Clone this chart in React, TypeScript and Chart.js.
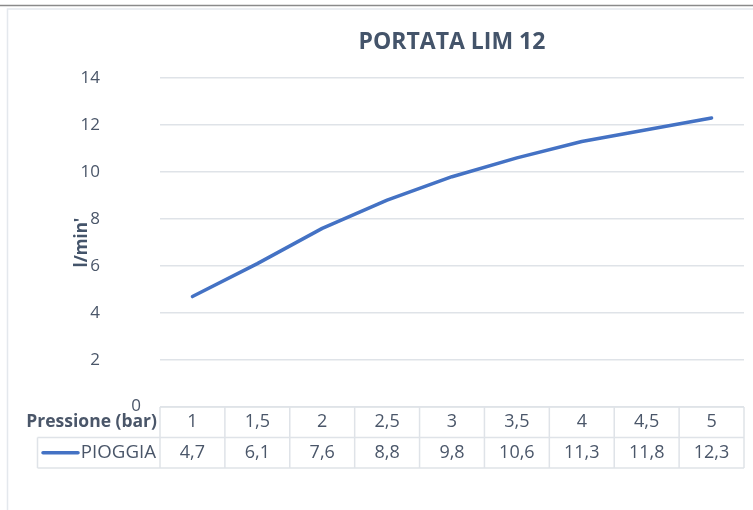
import React, { useEffect, useRef } from 'react';
import { Chart, registerables } from 'chart.js';

Chart.register(...registerables);

const chartTitle = 'PORTATA LIM 12';
const yAxisTitle = "l/min'";
const headerName = 'Pressione (bar)';
const seriesName = 'PIOGGIA';
const pressures = ['1', '1,5', '2', '2,5', '3', '3,5', '4', '4,5', '5'];
const pioggia = [4.7, 6.1, 7.6, 8.8, 9.8, 10.6, 11.3, 11.8, 12.3];
const yMin = 0;
const yMax = 14;
const yStep = 2;

const TEXT = '#4A5669';
const TITLE = '#44546A';
const LINE = '#4472C4';
const GRID = '#DFE3E8';
const FONT = "'Open Sans', sans-serif";

const fmt = (v: number) => v.toFixed(1).replace('.', ',');

const framePlugin = {
  id: 'frame',
  beforeDraw(chart: any) {
    const { ctx, width, height } = chart;
    ctx.save();
    ctx.fillStyle = '#FFFFFF';
    ctx.fillRect(0, 0, width, height);
    ctx.strokeStyle = '#8A8A8A';
    ctx.lineWidth = 1.5;
    ctx.beginPath();
    ctx.moveTo(0, 5.5);
    ctx.lineTo(width, 5.5);
    ctx.stroke();
    ctx.strokeStyle = '#E4E8ED';
    ctx.lineWidth = 1.5;
    ctx.beginPath();
    ctx.moveTo(7.5, height);
    ctx.lineTo(7.5, 9);
    ctx.lineTo(width, 9);
    ctx.stroke();
    ctx.restore();
  },
};

const tablePlugin = {
  id: 'dataTable',
  afterDraw(chart: any) {
    const { ctx } = chart;
    const xs = chart.scales.x;
    const ys = chart.scales.y;
    const n = pressures.length;
    const half = (xs.getPixelForValue(1) - xs.getPixelForValue(0)) / 2;
    const y0 = ys.getPixelForValue(yMin);
    const rowH = 30.5;
    const r1 = y0 + rowH;
    const r2 = y0 + 2 * rowH;
    const left = xs.getPixelForValue(0) - half;
    const right = xs.getPixelForValue(n - 1) + half;
    const legendLeft = 37.5;

    ctx.save();
    // "0" tick label, partly hidden like the reference
    ctx.save();
    ctx.beginPath();
    ctx.rect(100, y0 - 20, 60, 26);
    ctx.clip();
    ctx.fillStyle = TEXT;
    ctx.font = `17px ${FONT}`;
    ctx.textAlign = 'center';
    ctx.textBaseline = 'middle';
    ctx.fillText(String(yMin), 136, y0 - 1);
    ctx.restore();

    ctx.strokeStyle = GRID;
    ctx.lineWidth = 1.5;
    ctx.beginPath();
    ctx.moveTo(left, y0);
    ctx.lineTo(right, y0);
    ctx.moveTo(legendLeft, r1);
    ctx.lineTo(right, r1);
    ctx.moveTo(legendLeft, r2);
    ctx.lineTo(right, r2);
    ctx.moveTo(legendLeft, r1);
    ctx.lineTo(legendLeft, r2);
    for (let i = 0; i <= n; i++) {
      const bx = i < n ? xs.getPixelForValue(i) - half : right;
      ctx.moveTo(bx, y0);
      ctx.lineTo(bx, r2);
    }
    ctx.stroke();

    ctx.fillStyle = TEXT;
    ctx.textBaseline = 'middle';
    ctx.textAlign = 'center';
    ctx.font = `18px ${FONT}`;
    for (let i = 0; i < n; i++) {
      const cx = xs.getPixelForValue(i);
      ctx.fillText(pressures[i], cx, y0 + rowH / 2);
      ctx.fillText(fmt(pioggia[i]), cx, r1 + rowH / 2);
    }

    ctx.textAlign = 'right';
    ctx.font = `bold 17.5px ${FONT}`;
    ctx.fillText(headerName, left - 3, y0 + rowH / 2);
    ctx.font = `18.7px ${FONT}`;
    ctx.fillText(seriesName, left - 4, r1 + rowH / 2);

    ctx.strokeStyle = LINE;
    ctx.lineWidth = 3.5;
    ctx.lineCap = 'round';
    ctx.beginPath();
    ctx.moveTo(43, r1 + rowH / 2);
    ctx.lineTo(78, r1 + rowH / 2);
    ctx.stroke();
    ctx.restore();
  },
};

export default function App() {
  const ref = useRef<HTMLCanvasElement>(null);

  useEffect(() => {
    if (!ref.current) return;
    const chart = new Chart(ref.current, {
      type: 'line',
      data: {
        labels: pressures,
        datasets: [
          {
            label: seriesName,
            data: pioggia,
            borderColor: LINE,
            backgroundColor: LINE,
            borderWidth: 3.5,
            borderCapStyle: 'round',
            borderJoinStyle: 'round',
            pointRadius: 0,
            tension: 0,
            fill: false,
          },
        ],
      },
      options: {
        responsive: false,
        animation: false,
        layout: { padding: { top: 20, left: 0, right: 9, bottom: 103 } },
        plugins: {
          legend: { display: false },
          tooltip: { enabled: false },
          title: {
            display: true,
            text: chartTitle,
            fullSize: false,
            color: TITLE,
            font: { family: FONT, size: 23, weight: 'bold', lineHeight: 1.2 },
            padding: { top: 8.2, bottom: 22.2 },
          },
        },
        scales: {
          x: {
            type: 'category',
            display: false,
            offset: true,
          },
          y: {
            min: yMin,
            max: yMax,
            afterFit(scale: any) {
              scale.width = 160;
            },
            border: { display: false },
            grid: { color: GRID, lineWidth: 1.5, drawTicks: false },
            ticks: {
              stepSize: yStep,
              padding: 60,
              color: TEXT,
              font: { family: FONT, size: 17 },
              callback: (v: any) => (Number(v) === yMin ? '' : String(v)),
            },
            title: {
              display: true,
              text: yAxisTitle,
              color: TITLE,
              font: { family: FONT, size: 17, weight: 'bold', lineHeight: 1.2 },
              padding: { top: 72, bottom: 0 },
            },
          },
        },
      },
      plugins: [framePlugin, tablePlugin],
    });
    return () => chart.destroy();
  }, []);

  return (
    <div style={{ position: 'absolute', left: 0, top: 0, width: 753, height: 510 }}>
      <canvas ref={ref} width={753} height={510} style={{ display: 'block' }} />
    </div>
  );
}
